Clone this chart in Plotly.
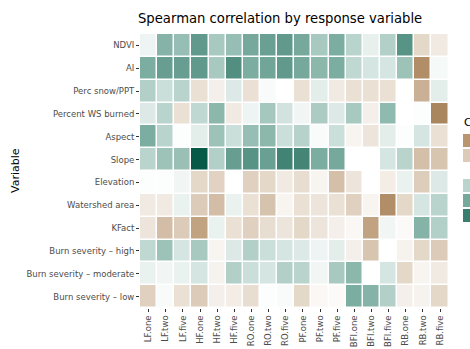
import plotly.graph_objects as go

columns = ["LF.one", "LF.two", "LF.five", "HF.one", "HF.two", "HF.five",
           "RO.one", "RO.two", "RO.five", "PF.one", "PF.two", "PF.five",
           "BFI.one", "BFI.two", "BFI.five", "RB.one", "RB.two", "RB.five"]

variables = ["NDVI", "AI", "Perc snow/PPT", "Percent WS burned", "Aspect", "Slope",
             "Elevation", "Watershed area", "KFact", "Burn severity – high",
             "Burn severity – moderate", "Burn severity – low"]

ndvi      = [0.05, 0.35, 0.30, 0.47, 0.25, 0.30, 0.40, 0.44, 0.47, 0.40, 0.25, 0.38, 0.20, 0.07, 0.22, 0.50, -0.15, -0.08]
ai        = [0.38, 0.45, 0.45, 0.47, 0.25, 0.52, 0.38, 0.42, 0.47, 0.40, 0.33, 0.38, 0.18, 0.12, 0.12, 0.28, -0.45, 0.03]
snow_ppt  = [0.22, 0.15, 0.20, -0.12, -0.06, 0.10, -0.12, 0.02, 0.00, -0.12, 0.08, -0.08, -0.12, -0.12, -0.12, 0.00, -0.30, 0.08]
ws_burned = [0.10, 0.20, -0.12, 0.18, 0.33, -0.08, 0.05, 0.26, 0.13, 0.04, 0.24, 0.10, 0.25, -0.06, 0.32, 0.00, 0.01, -0.50]
aspect    = [0.38, 0.20, 0.01, 0.08, 0.28, 0.15, 0.30, 0.33, 0.15, 0.21, 0.02, 0.15, -0.04, -0.10, 0.08, 0.01, 0.12, -0.12]
slope     = [0.20, 0.28, 0.29, 0.78, 0.22, 0.45, 0.50, 0.44, 0.58, 0.57, 0.38, 0.40, 0.00, 0.00, 0.12, 0.20, -0.24, -0.22]
elevation = [0.01, 0.01, 0.04, -0.15, -0.17, 0.00, -0.18, -0.15, -0.08, -0.13, -0.04, -0.24, -0.10, 0.00, -0.07, 0.06, -0.19, 0.10]
ws_area   = [-0.08, -0.08, 0.06, -0.20, -0.25, 0.06, -0.12, -0.23, -0.04, -0.12, -0.10, -0.12, -0.18, -0.04, -0.45, -0.15, 0.12, 0.20]
kfact     = [-0.10, -0.25, -0.20, -0.35, 0.06, -0.12, -0.18, -0.13, -0.10, -0.15, -0.10, -0.06, -0.03, -0.35, 0.04, -0.02, 0.35, 0.22]
bs_high   = [0.18, 0.28, 0.12, 0.25, -0.04, 0.10, 0.22, 0.15, 0.12, 0.10, 0.05, 0.08, -0.06, -0.22, 0.00, -0.05, -0.15, -0.20]
bs_mod    = [0.06, 0.04, 0.06, 0.12, -0.05, 0.22, 0.15, 0.12, 0.22, 0.20, 0.04, 0.25, 0.33, 0.00, 0.12, -0.15, -0.04, -0.08]
bs_low    = [-0.18, 0.02, -0.12, -0.20, -0.06, -0.07, -0.13, 0.01, 0.02, -0.15, -0.03, -0.02, 0.38, 0.35, 0.22, -0.06, -0.05, -0.15]

legend_breaks = [-0.4, -0.2, 0.0, 0.2, 0.4, 0.6]

z = [ndvi, ai, snow_ppt, ws_burned, aspect, slope, elevation, ws_area,
     kfact, bs_high, bs_mod, bs_low]

colorscale = [[0.0, "#7d5424"], [0.25, "#b89670"], [0.5, "#ffffff"],
              [0.72, "#84b3a7"], [1.0, "#005443"]]
ZMIN, ZMAX = -0.8, 0.8

W, H = 470, 349
L, R, T, B = 140, 0, 34, 41
pw, ph = W - L - R, H - T - B

def px_x(x):
    return (x - L) / pw

def px_y(y):
    return (H - B - y) / ph

FONT = "DejaVu Sans"

fig = go.Figure()
fig.add_trace(go.Heatmap(
    z=z, x=columns, y=variables, colorscale=colorscale, zmin=ZMIN, zmax=ZMAX,
    showscale=False, xgap=1.5, ygap=1.5, hoverongaps=False,
))
fig.add_trace(go.Heatmap(
    z=[[v] for v in legend_breaks], x=["key"], y=[str(v) for v in legend_breaks],
    colorscale=colorscale, zmin=ZMIN, zmax=ZMAX, showscale=False, ygap=2,
    xaxis="x2", yaxis="y2",
))

tick_common = dict(ticks="outside", ticklen=3, tickwidth=1, tickcolor="#333333",
                   showgrid=False, zeroline=False, showline=False,
                   tickfont=dict(family=FONT, size=8.5, color="#4d4d4d"))

fig.update_layout(
    width=W, height=H, margin=dict(l=L, r=R, t=T, b=B),
    paper_bgcolor="white", plot_bgcolor="white",
    title=dict(text="Spearman correlation by response variable",
               font=dict(family=FONT, size=13.2, color="black"),
               xref="container", x=138 / W, xanchor="left",
               yref="container", y=1 - 18 / H, yanchor="middle"),
    xaxis=dict(domain=[0, px_x(448.6)], tickangle=-90, **tick_common),
    yaxis=dict(domain=[0, 1], autorange="reversed", **tick_common),
    xaxis2=dict(domain=[px_x(463), 1.0], anchor="y2", visible=False),
    yaxis2=dict(domain=[px_y(223), px_y(133)], anchor="x2", visible=False,
                autorange="reversed"),
    annotations=[
        dict(text="Variable", xref="paper", yref="paper", x=px_x(15), y=0.5,
             textangle=-90, showarrow=False, xanchor="center", yanchor="middle",
             font=dict(family=FONT, size=11, color="black")),
        dict(text="Correlation", xref="paper", yref="paper", x=px_x(462), y=px_y(122),
             showarrow=False, xanchor="left", yanchor="middle",
             font=dict(family=FONT, size=11, color="black")),
    ],
)

fig.write_html("out.html")
